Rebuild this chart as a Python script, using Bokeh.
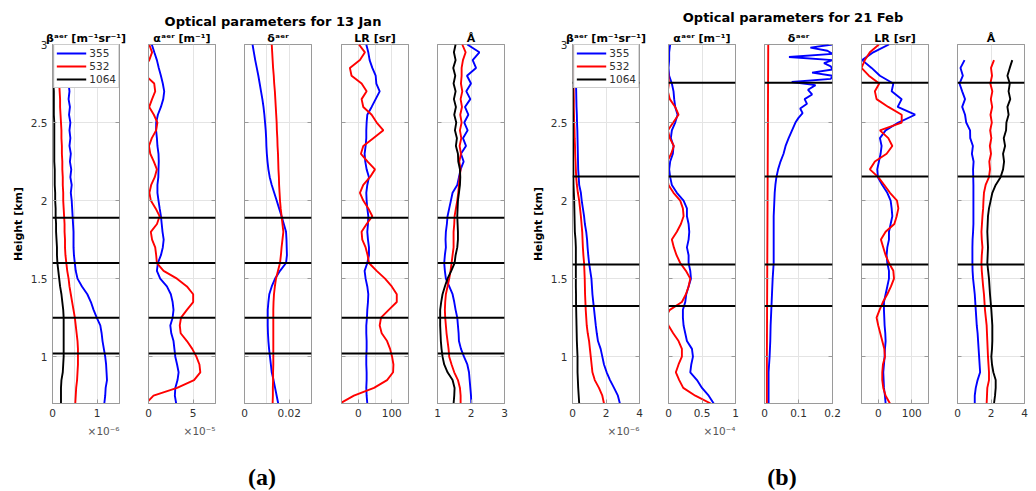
import math
from bokeh.plotting import figure
from bokeh.models import (Range1d, FixedTicker, CustomJSTickFormatter, LinearAxis, Span, Div, Title)
from bokeh.layouts import row, column
from bokeh.embed import file_html
from bokeh.resources import INLINE

nan = float("nan")
FONT = "DejaVu Sans"

# heights [km]
H = [0.70, 0.75, 0.80, 0.85, 0.90, 0.95, 1.00, 1.05, 1.10, 1.15,
     1.20, 1.25, 1.30, 1.35, 1.40, 1.45, 1.50, 1.55, 1.60, 1.65,
     1.70, 1.75, 1.80, 1.85, 1.90, 1.95, 2.00, 2.05, 2.10, 2.15,
     2.20, 2.25, 2.30, 2.35, 2.40, 2.45, 2.50, 2.55, 2.60, 2.65,
     2.70, 2.75, 2.80, 2.85, 2.90, 2.95, 3.00]

Y_TICKS = [1, 1.5, 2, 2.5, 3]
WAVELENGTHS = ["355", "532", "1064"]

# ---------------- 13 Jan ----------------
JAN_LAYERS = [1.02, 1.25, 1.60, 1.89]
JAN_BETA_355 = [1.16, 1.18, 1.19, 1.22, 1.21, 1.20, 1.18, 1.15, 1.12, 1.10,
                1.07, 0.99, 0.92, 0.86, 0.78, 0.66, 0.56, 0.52, 0.50, 0.48,
                0.47, 0.47, 0.47, 0.46, 0.45, 0.44, 0.43, 0.41, 0.43, 0.40,
                0.42, 0.39, 0.41, 0.38, 0.40, 0.38, 0.40, 0.37, 0.39, 0.36,
                0.38, 0.36, 0.37, 0.35, 0.36, 0.34, 0.35]
JAN_BETA_532 = [0.51, 0.52, 0.53, 0.55, 0.56, 0.57, 0.57, 0.57, 0.56, 0.54,
                0.52, 0.50, 0.47, 0.44, 0.41, 0.38, 0.36, 0.33, 0.31, 0.29,
                0.28, 0.28, 0.27, 0.27, 0.26, 0.25, 0.24, 0.24, 0.23, 0.23,
                0.22, 0.22, 0.21, 0.21, 0.20, 0.20, 0.19, 0.18, 0.17, 0.17,
                0.16, 0.15, 0.14, 0.13, 0.12, 0.11, 0.10]
JAN_BETA_1064 = [0.19, 0.19, 0.19, 0.20, 0.23, 0.24, 0.25, 0.25, 0.25, 0.25,
                 0.25, 0.25, 0.24, 0.22, 0.20, 0.17, 0.15, 0.13, 0.11, 0.10,
                 0.10, 0.09, 0.08, 0.08, 0.07, 0.07, 0.06, 0.06, 0.05, 0.05,
                 0.05, 0.04, 0.04, 0.04, 0.04, 0.04, 0.04, 0.03, 0.03, 0.03,
                 0.03, 0.02, 0.02, 0.02, 0.02, 0.01, 0.01]
JAN_ALPHA_355 = [3.10, 2.95, 3.00, 3.25, 3.37, 3.20, 3.00, 2.90, 2.80, 2.55,
                 2.44, 2.70, 2.80, 2.70, 2.50, 2.06, 1.31, 0.94, 1.05, 1.39,
                 1.60, 1.70, 1.57, 1.48, 1.39, 1.25, 1.12, 1.00, 1.00, 1.10,
                 1.12, 1.15, 1.12, 1.00, 0.94, 0.85, 0.86, 1.05, 1.39, 1.65,
                 1.76, 1.60, 1.39, 1.15, 0.94, 0.65, 0.37]
JAN_ALPHA_532 = [-0.30, 0.56, 3.20, 5.10, 5.80, 5.70, 5.36, 4.90, 4.30, 3.60,
                 3.50, 3.64, 4.30, 5.00, 5.00, 4.30, 3.19, 1.69, 0.94, 0.86,
                 0.75, 0.40, 0.26, 0.95, 1.24, 0.80, 0.26, 0.10, 0.30, 0.70,
                 0.94, 0.60, 0.20, 0.05, 0.37, 0.85, 1.00, 0.60, 0.08, 0.40,
                 0.75, 0.64, -0.30, -0.50, 0.08, 0.40, 0.08]
JAN_DELTA_355 = [0.0151, 0.0144, 0.0137, 0.0130, 0.0122, 0.0118, 0.0114, 0.0110, 0.0107, 0.0105,
                 0.0104, 0.0104, 0.0104, 0.0107, 0.0111, 0.0122, 0.0137, 0.0159, 0.0186, 0.0190,
                 0.0189, 0.0188, 0.0186, 0.0176, 0.0166, 0.0155, 0.0144, 0.0133, 0.0122, 0.0113,
                 0.0107, 0.0103, 0.0100, 0.0098, 0.0097, 0.0095, 0.0092, 0.0089, 0.0085, 0.0080,
                 0.0074, 0.0068, 0.0062, 0.0055, 0.0048, 0.0042, 0.0036]
JAN_DELTA_532 = [0.0126, 0.0127, 0.0127, 0.0128, 0.0128, 0.0129, 0.0129, 0.0129, 0.0129, 0.0129,
                 0.0129, 0.0129, 0.0129, 0.0130, 0.0132, 0.0136, 0.0141, 0.0150, 0.0159, 0.0163,
                 0.0166, 0.0170, 0.0174, 0.0170, 0.0166, 0.0162, 0.0159, 0.0157, 0.0155, 0.0154,
                 0.0152, 0.0151, 0.0150, 0.0148, 0.0147, 0.0145, 0.0144, 0.0142, 0.0140, 0.0138,
                 0.0136, 0.0133, 0.0131, 0.0128, 0.0126, 0.0124, 0.0122]
JAN_LR_355 = [27, 25, 24, 25, 25, 24, 24, 25, 25, 24,
              24, 26, 27, 29, 30, 27, 22, 19, 27, 32,
              32, 29, 27, 29, 30, 27, 25, 24, 27, 32,
              25, 21, 19, 22, 24, 24, 25, 27, 40, 52,
              64, 54, 52, 42, 34, 30, 24]
JAN_LR_532 = [-55, -13, 47, 86, 104, 105, 101, 95, 86, 70,
              64, 68, 91, 115, 115, 100, 80, 55, 32, 28,
              22, 12, 10, 25, 42, 30, 15, 5, 15, 35,
              50, 28, 8, 15, 45, 75, 55, 40, 15, 10,
              25, 10, -20, -25, 5, 20, 2]
JAN_ANG_355 = [2.01, 2.00, 1.98, 1.96, 1.94, 1.89, 1.79, 1.70, 1.64, 1.63,
               1.61, 1.59, 1.54, 1.50, 1.45, 1.35, 1.25, 1.22, 1.20, 1.22,
               1.25, 1.24, 1.25, 1.28, 1.30, 1.35, 1.40, 1.45, 1.59, 1.64,
               1.69, 1.78, 1.70, 1.85, 1.76, 1.90, 1.80, 1.92, 1.82, 1.98,
               1.86, 2.00, 1.88, 2.15, 2.05, 2.25, 1.89]
JAN_ANG_532 = [1.69, 1.69, 1.67, 1.61, 1.50, 1.42, 1.35, 1.33, 1.30, 1.27,
               1.25, 1.23, 1.22, 1.23, 1.25, 1.30, 1.35, 1.39, 1.42, 1.45,
               1.48, 1.48, 1.48, 1.50, 1.51, 1.55, 1.59, 1.62, 1.64, 1.66,
               1.69, 1.65, 1.70, 1.66, 1.71, 1.67, 1.72, 1.68, 1.73, 1.69,
               1.74, 1.70, 1.72, 1.72, 1.76, 1.84, 1.74]
JAN_ANG_1064 = [1.48, 1.50, 1.51, 1.45, 1.30, 1.20, 1.15, 1.12, 1.10, 1.09,
                1.08, 1.08, 1.08, 1.11, 1.15, 1.22, 1.30, 1.41, 1.51, 1.54,
                1.59, 1.61, 1.61, 1.60, 1.59, 1.60, 1.61, 1.64, 1.67, 1.68,
                1.67, 1.62, 1.61, 1.55, 1.58, 1.52, 1.56, 1.50, 1.55, 1.49,
                1.54, 1.48, 1.53, 1.47, 1.54, 1.49, 1.54]

# ---------------- 21 Feb ----------------
FEB_LAYERS = [1.325, 1.59, 2.155, 2.755]
FEB_BETA_355 = [2.83, 2.71, 2.48, 2.24, 2.04, 1.88, 1.78, 1.68, 1.52, 1.45,
                1.39, 1.34, 1.29, 1.24, 1.19, 1.16, 1.13, 1.06, 0.99, 0.94,
                0.90, 0.87, 0.82, 0.74, 0.69, 0.62, 0.55, 0.50, 0.40, 0.37,
                0.34, 0.33, 0.32, 0.31, 0.30, 0.29, 0.27, 0.26, 0.24, 0.23,
                0.22, 0.21, 0.20, 0.17, 0.15, 0.12, 0.10]
FEB_BETA_532 = [1.88, 1.78, 1.58, 1.33, 1.19, 1.14, 1.09, 1.04, 0.99, 0.91,
                0.85, 0.82, 0.79, 0.77, 0.75, 0.74, 0.73, 0.71, 0.69, 0.65,
                0.62, 0.60, 0.58, 0.54, 0.50, 0.45, 0.40, 0.32, 0.26, 0.22,
                0.20, 0.18, 0.16, 0.15, 0.13, 0.12, 0.10, 0.09, 0.08, 0.08,
                0.07, 0.06, 0.06, 0.05, 0.05, 0.04, 0.04]
FEB_BETA_1064 = [0.40, 0.37, 0.34, 0.32, 0.30, 0.30, 0.30, 0.28, 0.26, 0.25,
                 0.24, 0.23, 0.22, 0.21, 0.21, 0.20, 0.20, 0.20, 0.20, 0.20,
                 0.20, 0.18, 0.14, 0.13, 0.12, 0.11, 0.10, 0.08, 0.06, 0.05,
                 0.05, 0.04, 0.04, 0.04, 0.03, 0.03, 0.03, 0.03, 0.02, 0.02,
                 0.02, 0.02, 0.02, 0.02, 0.02, 0.02, 0.02]
FEB_ALPHA_355 = [0.675, 0.60, 0.50, 0.425, 0.325, 0.34, 0.365, 0.35, 0.275, 0.25,
                 0.225, 0.215, 0.215, 0.25, 0.265, 0.30, 0.335, 0.325, 0.30, 0.30,
                 0.275, 0.30, 0.31, 0.30, 0.275, 0.275, 0.225, 0.125, 0.05, 0.025,
                 0.01, 0.025, 0.065, 0.075, 0.035, 0.05, 0.10, 0.135, 0.10, 0.085,
                 0.075, 0.05, 0.01, 0.0, 0.01, 0.01, 0.025]
FEB_ALPHA_532 = [0.63, 0.40, 0.22, 0.16, 0.11, 0.15, 0.20, 0.20, 0.15, 0.07,
                 0.0, -0.05, 0.02, 0.20, 0.26, 0.30, 0.325, 0.26, 0.175, 0.12,
                 0.08, 0.05, 0.125, 0.185, 0.225, 0.215, 0.175, 0.075, 0.0, -0.02,
                 -0.03, -0.02, 0.04, 0.08, 0.02, -0.01, 0.07, 0.15, 0.10, 0.02,
                 -0.01, 0.005, 0.0, -0.01, -0.02, -0.02, -0.02]
FEB_DELTA_355_H = [0.70, 0.80, 0.90, 1.00, 1.10, 1.20, 1.30, 1.40, 1.50, 1.60,
                   1.70, 1.80, 1.90, 2.00, 2.05, 2.10, 2.15, 2.20, 2.25, 2.30,
                   2.35, 2.40, 2.45, 2.50, 2.53, 2.56, 2.59, 2.62, 2.65, 2.68,
                   2.71, 2.74, 2.76, 2.78, 2.80, 2.82, 2.84, 2.86, 2.88, 2.90,
                   2.92, 2.94, 2.96, 2.98, 3.00]
FEB_DELTA_355 = [0.012, 0.012, 0.012, 0.015, 0.017, 0.018, 0.020, 0.022, 0.024, 0.027,
                 0.027, 0.027, 0.027, 0.029, 0.030, 0.032, 0.035, 0.040, 0.047, 0.056,
                 0.062, 0.071, 0.081, 0.091, 0.100, 0.112, 0.105, 0.125, 0.118, 0.140,
                 0.128, 0.150, 0.080, 0.195, 0.200, 0.140, 0.200, 0.195, 0.175, 0.200,
                 0.072, 0.200, 0.185, 0.135, 0.200]
FEB_DELTA_532_H = [0.70, 1.00, 1.50, 2.00, 2.50, 3.00]
FEB_DELTA_532 = [0.007, 0.007, 0.008, 0.009, 0.010, 0.011]
FEB_LR_355 = [22, 20, 17, 16, 15, 17, 19, 20, 22, 21,
              19, 18, 17, 17, 22, 27, 32, 32, 27, 25,
              27, 32, 32, 37, 42, 40, 37, 27, 12, -1,
              -3, 2, 7, 10, 5, 22, 60, 110, 58, 70,
              40, 45, 5, -20, -48, -15, 32]
FEB_LR_532 = [35, 22, 15, 12, 12, 14, 20, 18, 12, 6,
              0, -5, 4, 14, 27, 38, 47, 45, 32, 22,
              15, 8, 22, 48, 55, 60, 56, 35, 18, 0,
              -25, -10, 25, 42, 30, 5, 70, 70, 30, -5,
              -10, 3, -28, -50, -40, -25, 2]
FEB_ANG_355 = [1.03, 1.03, 1.09, 1.20, 1.35, 1.32, 1.29, 1.26, 1.23, 1.20,
               1.15, 1.12, 1.09, 1.06, 1.03, 0.98, 0.93, 0.90, 0.89, 0.89,
               0.89, 0.90, 0.93, 0.95, 0.95, 0.95, 0.95, 0.95, 0.95, 0.94,
               0.93, 0.96, 0.86, 0.92, 0.76, 0.75, 0.52, 0.45, 0.28, 0.45,
               0.28, 0.12, 0.32, 0.18, 0.42, nan, nan]
FEB_ANG_532 = [1.74, 1.76, 1.78, 1.88, 1.88, 1.85, 1.82, 1.80, 1.78, 1.76,
               1.74, 1.69, 1.64, 1.61, 1.58, 1.53, 1.49, 1.45, 1.43, 1.45,
               1.49, 1.45, 1.43, 1.46, 1.49, 1.53, 1.55, 1.58, 1.68, 1.88,
               1.94, 1.90, 2.00, 1.93, 2.02, 1.95, 2.05, 1.97, 2.07, 1.99,
               2.08, 1.96, 2.06, 2.00, 2.18, nan, nan]
FEB_ANG_1064 = [2.18, 2.24, 2.28, 2.28, 2.14, 2.06, 2.02, 2.06, 2.08, 2.08,
                2.08, 2.05, 2.02, 1.98, 1.94, 1.91, 1.88, 1.83, 1.78, 1.80,
                1.82, 1.80, 1.78, 1.80, 1.82, 1.88, 1.98, 2.08, 2.28, 2.57,
                2.72, 2.78, 2.72, 2.84, 2.76, 2.90, 2.92, 3.05, 2.98, 3.15,
                3.05, 3.12, 2.98, 3.12, 3.27, nan, nan]

BLUE, RED, BLACK = "#0000ff", "#ff0000", "#000000"
AX = "#9a9a9a"
TXT = "#303030"

TITLES = ["βᵃᵉʳ [m⁻¹sr⁻¹]", "αᵃᵉʳ [m⁻¹]", "δᵃᵉʳ", "LR [sr]", "Å"]

JAN_PANELS = [
    dict(xr=(0, 1.5), xt=[0, 1], xg=[0.5, 1], exp="×10⁻⁶",
         series=[(H, JAN_BETA_355, BLUE), (H, JAN_BETA_532, RED), (H, JAN_BETA_1064, BLACK)]),
    dict(xr=(0, 7.5), xt=[0, 5], xg=[5], exp="×10⁻⁵",
         series=[(H, JAN_ALPHA_355, BLUE), (H, JAN_ALPHA_532, RED)]),
    dict(xr=(0, 0.03), xt=[0, 0.02], xg=[0.01, 0.02], exp=None,
         series=[(H, JAN_DELTA_355, BLUE), (H, JAN_DELTA_532, RED)]),
    dict(xr=(-50, 150), xt=[0, 100], xg=[0, 50, 100], exp=None,
         series=[(H, JAN_LR_355, BLUE), (H, JAN_LR_532, RED)]),
    dict(xr=(1, 3), xt=[1, 2, 3], xg=[2], exp=None,
         series=[(H, JAN_ANG_355, BLUE), (H, JAN_ANG_532, RED), (H, JAN_ANG_1064, BLACK)]),
]
FEB_PANELS = [
    dict(xr=(0, 4), xt=[0, 2, 4], xg=[2], exp="×10⁻⁶",
         series=[(H, FEB_BETA_355, BLUE), (H, FEB_BETA_532, RED), (H, FEB_BETA_1064, BLACK)]),
    dict(xr=(0, 1), xt=[0, 0.5, 1], xg=[0.5], exp="×10⁻⁴",
         series=[(H, FEB_ALPHA_355, BLUE), (H, FEB_ALPHA_532, RED)]),
    dict(xr=(0, 0.2), xt=[0, 0.1, 0.2], xg=[0.1], exp=None,
         series=[(FEB_DELTA_355_H, FEB_DELTA_355, BLUE), (FEB_DELTA_532_H, FEB_DELTA_532, RED)]),
    dict(xr=(-50, 150), xt=[0, 100], xg=[0, 50, 100], exp=None,
         series=[(H, FEB_LR_355, BLUE), (H, FEB_LR_532, RED)]),
    dict(xr=(0, 4), xt=[0, 2, 4], xg=[2], exp=None,
         series=[(H, FEB_ANG_355, BLUE), (H, FEB_ANG_532, RED), (H, FEB_ANG_1064, BLACK)]),
]


def fmt():
    return CustomJSTickFormatter(code="return String(Math.round(tick*1000)/1000);")


def blank():
    return CustomJSTickFormatter(code="return '';")


def style_axis(ax, ticks, labels=True):
    ax.ticker = FixedTicker(ticks=ticks)
    ax.major_tick_in = 4
    ax.major_tick_out = 0
    ax.minor_tick_line_color = None
    ax.axis_line_color = AX
    ax.major_tick_line_color = AX
    ax.major_label_text_font = FONT
    ax.major_label_text_font_size = "10.5px"
    if labels:
        ax.formatter = fmt()
        ax.major_label_text_color = TXT
    else:
        ax.formatter = blank()
        ax.major_label_text_color = None
        ax.major_label_standoff = 0


def panel(spec, title, lb, rb, fw, tb, fh, first, layers):
    bb = 45
    p = figure(width=lb + fw + rb, height=tb + fh + bb,
               x_range=Range1d(*spec["xr"]), y_range=Range1d(0.7, 3.0),
               output_backend="svg", toolbar_location=None,
               min_border_left=lb, min_border_right=rb,
               min_border_top=tb, min_border_bottom=bb,
               outline_line_color=AX, background_fill_color="white",
               border_fill_color="white")
    p.title.text = title
    p.title.align = "center"
    p.title.text_font = FONT
    p.title.text_font_size = "11px"
    p.title.text_font_style = "bold"
    p.title.text_color = "#000000"
    if "standoff" in type(p.title).properties():
        p.title.standoff = 0

    ya = p.yaxis[0]
    style_axis(ya, Y_TICKS, labels=first)
    if first:
        ya.axis_label = "Height [km]"
        ya.axis_label_text_font = FONT
        ya.axis_label_text_font_style = "bold"
        ya.axis_label_text_font_size = "11px"
        ya.axis_label_text_color = "#000000"
        ya.axis_label_standoff = 3

    ra = LinearAxis()
    style_axis(ra, Y_TICKS, labels=False)
    p.add_layout(ra, "right")

    xa = p.xaxis[0]
    style_axis(xa, spec["xt"])
    if spec["exp"]:
        t = Title(text=spec["exp"], align="right", text_font=FONT, text_font_size="10.5px",
                  text_font_style="normal", text_color="#555555")
        if "standoff" in type(t).properties():
            t.standoff = 6
        p.add_layout(t, "below")

    p.xgrid.ticker = FixedTicker(ticks=spec["xg"])
    p.ygrid.ticker = FixedTicker(ticks=Y_TICKS)
    p.xgrid.grid_line_color = "#e4e4e4"
    p.ygrid.grid_line_color = "#e4e4e4"

    for lv in layers:
        p.add_layout(Span(location=lv, dimension="width", line_color="#000000", line_width=2))

    for i, (hh, vals, col) in enumerate(spec["series"]):
        kw = dict(legend_label=WAVELENGTHS[i]) if first else {}
        p.line(x=vals, y=hh, line_color=col, line_width=1.9, **kw)

    if first:
        lg = p.legend[0]
        lg.location = "top_right"
        lg.margin = 0
        lg.padding = 2
        lg.spacing = 1
        lg.label_height = 10
        lg.glyph_height = 10
        lg.glyph_width = 30
        lg.label_standoff = 3
        lg.label_text_font = FONT
        lg.label_text_font_size = "10.5px"
        lg.label_text_color = TXT
        lg.border_line_color = AX
        lg.background_fill_alpha = 1.0
    return p


JAN_BORDERS = [(52, 8, 67), (21, 5, 67), (24, 5, 67), (25, 5, 67), (24, 16, 67)]
FEB_BORDERS = [(52, 8, 67), (21, 5, 67), (24, 10, 68), (19, 5, 67), (24, 12, 67)]

figs = []
for i, (spec, (lb, rb, fw)) in enumerate(zip(JAN_PANELS, JAN_BORDERS)):
    figs.append(panel(spec, TITLES[i], lb, rb, fw, 15, 359, i == 0, JAN_LAYERS))
for i, (spec, (lb, rb, fw)) in enumerate(zip(FEB_PANELS, FEB_BORDERS)):
    figs.append(panel(spec, TITLES[i], lb, rb, fw, 13, 361, i == 0, FEB_LAYERS))


def div(text, w, h, style):
    return Div(text='<div style="%s">%s</div>' % (style, text), width=w, height=h, margin=0)


TSTYLE = ("box-sizing:border-box;width:%dpx;text-align:center;font-family:'DejaVu Sans';"
          "font-weight:bold;font-size:13px;line-height:13px;color:#000;padding-top:%dpx;padding-left:%dpx;")
LSTYLE = ("box-sizing:border-box;width:%dpx;text-align:center;font-family:'Liberation Serif';"
          "font-weight:bold;font-size:24px;line-height:24px;color:#000;padding-top:17px;padding-left:%dpx;")

top = row(div("Optical parameters for 13 Jan", 520, 29, TSTYLE % (520, 15, 26)),
          div("Optical parameters for 21 Feb", 516, 29, TSTYLE % (516, 11, 30)))
mid = row(*figs)
bot = row(div("(a)", 520, 43, LSTYLE % (520, 4)),
          div("(b)", 516, 43, LSTYLE % (516, 8)))
layout = column(top, mid, bot)

html = file_html(layout, INLINE, "Optical parameters")
html = html.replace("<head>", "<head><style>html,body{margin:0;padding:0;}</style>", 1)
open("out.html", "w").write(html)
